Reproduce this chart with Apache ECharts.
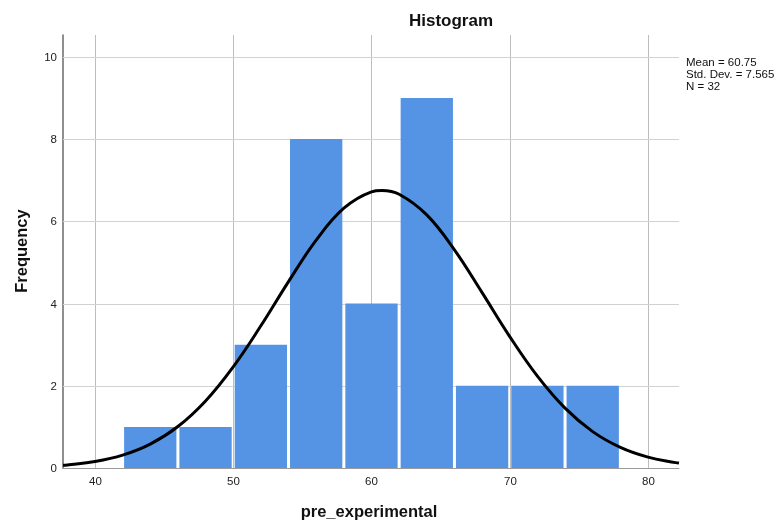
<!DOCTYPE html>
<html>
<head>
<meta charset="utf-8">
<script src="https://cdn.jsdelivr.net/npm/echarts@6/dist/echarts.min.js"></script>
<style>
html,body{margin:0;padding:0;background:#fff;}
#c{width:782px;height:525px;}
</style>
</head>
<body>
<div id="c"></div>
<script>
// Histogram bins (lower edge, upper edge) and frequencies
var binStarts = [42, 46, 50, 54, 58, 62, 66, 70, 74];
var binEnds   = [46, 50, 54, 58, 62, 66, 70, 74, 78];
var frequencies = [1, 1, 3, 8, 4, 9, 2, 2, 2];
// Normal curve (Mean 60.75, SD 7.565, N 32), tabulated values
var curveX = [37.69, 38, 40, 42, 44, 46, 48, 50, 52, 54, 56, 58, 60, 60.75, 62, 64, 66, 68, 70, 72, 74, 76, 78, 80, 82, 82.24];
var curveY = [0.065, 0.073, 0.157, 0.313, 0.582, 1.009, 1.631, 2.460, 3.458, 4.533, 5.542, 6.318, 6.717, 6.750, 6.658, 6.155, 5.305, 4.265, 3.196, 2.234, 1.456, 0.885, 0.502, 0.265, 0.131, 0.119];
// Tick labels
var xTicks = [40, 50, 60, 70, 80];
var yTicks = [0, 2, 4, 6, 8, 10];
var statsLines = ['Mean = 60.75', 'Std. Dev. = 7.565', 'N = 32'];

var X_MIN = 37.69, X_MAX = 82.24, Y_MIN = 0, Y_MAX = 10.53;
var FONT = '"Liberation Sans", Arial, sans-serif';

var chart = echarts.init(document.getElementById('c'), null, {renderer: 'canvas'});

var barData = binStarts.map(function (s, i) { return [s, binEnds[i], frequencies[i]]; });
var curveData = curveX.map(function (x, i) { return [x, curveY[i]]; });

var option = {
  animation: false,
  backgroundColor: '#ffffff',
  grid: {left: 63, right: 103, top: 35, bottom: 57, containLabel: false},
  xAxis: {
    type: 'value', min: X_MIN, max: X_MAX,
    axisLine: {show: true, onZero: false, lineStyle: {color: '#9a9a9a', width: 1}},
    axisTick: {show: false}, axisLabel: {show: false}, splitLine: {show: false}
  },
  yAxis: {
    type: 'value', min: Y_MIN, max: Y_MAX,
    axisLine: {show: true, lineStyle: {color: '#6a6a6a', width: 1.5}},
    axisTick: {show: false}, axisLabel: {show: false}, splitLine: {show: false}
  },
  graphic: [
    {type: 'text', x: 451, y: 21,
      style: {text: 'Histogram', font: 'bold 17px ' + FONT, fill: '#111', align: 'center', verticalAlign: 'middle'}},
    {type: 'text', x: 22, y: 251, rotation: Math.PI / 2,
      style: {text: 'Frequency', font: 'bold 16.5px ' + FONT, fill: '#111', align: 'center', verticalAlign: 'middle'}},
    {type: 'text', x: 369, y: 512,
      style: {text: 'pre_experimental', font: 'bold 16.5px ' + FONT, fill: '#111', align: 'center', verticalAlign: 'middle'}},
    {type: 'text', x: 686, y: 57,
      style: {text: statsLines.join('\n'), font: '11.5px ' + FONT, lineHeight: 11.8, fill: '#111', align: 'left', verticalAlign: 'top'}}
  ],
  series: [
    {
      type: 'custom', z: 1, silent: true,
      data: xTicks.map(function (v) { return [v]; }),
      renderItem: function (params, api) {
        var top = api.coord([api.value(0), Y_MAX]);
        var bot = api.coord([api.value(0), Y_MIN]);
        var x = Math.round(top[0]) + 0.5;
        return {type: 'group', children: [
          {type: 'line', shape: {x1: x, y1: top[1], x2: x, y2: bot[1]}, style: {stroke: '#bdbdbd', lineWidth: 1}},
          {type: 'text', x: x, y: bot[1] + 13.5, style: {text: String(api.value(0)), font: '11.5px ' + FONT, fill: '#222', align: 'center', verticalAlign: 'middle'}}
        ]};
      }
    },
    {
      type: 'custom', z: 1, silent: true,
      data: yTicks.map(function (v) { return [v]; }),
      renderItem: function (params, api) {
        var l = api.coord([X_MIN, api.value(0)]);
        var r = api.coord([X_MAX, api.value(0)]);
        var y = Math.round(l[1]) + 0.5;
        var children = [
          {type: 'text', x: l[0] - 6, y: y, style: {text: String(api.value(0)), font: '11.5px ' + FONT, fill: '#222', align: 'right', verticalAlign: 'middle'}}
        ];
        if (api.value(0) !== 0) {
          children.unshift({type: 'line', shape: {x1: l[0], y1: y, x2: r[0], y2: y}, style: {stroke: '#d2d2d2', lineWidth: 1}});
        }
        return {type: 'group', children: children};
      }
    },
    {
      type: 'custom', z: 2,
      data: barData,
      renderItem: function (params, api) {
        var p0 = api.coord([api.value(0), api.value(2)]);
        var p1 = api.coord([api.value(1), 0]);
        return {type: 'rect', shape: {x: p0[0] + 1.5, y: p0[1], width: p1[0] - p0[0] - 3, height: p1[1] - p0[1]},
          style: {fill: '#5594e5'}};
      }
    },
    {
      type: 'line', z: 3, data: curveData, smooth: 0.4, symbol: 'none', clip: true,
      lineStyle: {color: '#000', width: 3}
    }
  ]
};
chart.setOption(option);
</script>
</body>
</html>
